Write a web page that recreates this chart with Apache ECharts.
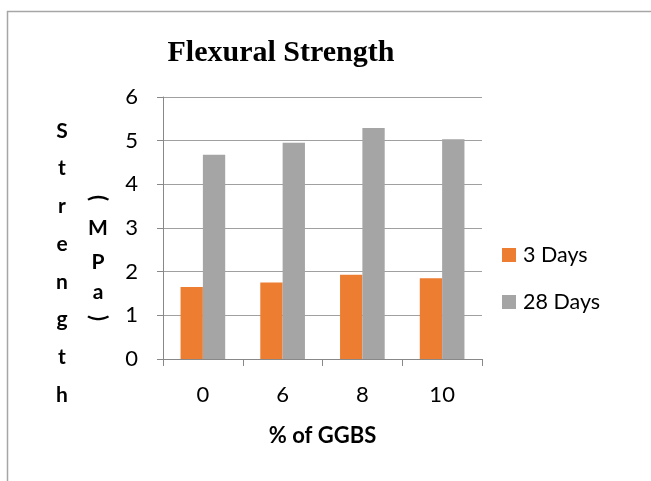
<!DOCTYPE html>
<html><head><meta charset="utf-8">
<script src="https://cdn.jsdelivr.net/npm/echarts@6/dist/echarts.min.js"></script>
<style>html,body{margin:0;padding:0;background:#fff}#c{width:651px;height:481px}</style>
</head><body><div id="c"></div>
<script>
const categories = ['0', '6', '8', '10'];
const days3 = [1.65, 1.75, 1.93, 1.85];
const days28 = [4.68, 4.95, 5.29, 5.03];
const yTicks = [0, 1, 2, 3, 4, 5, 6];
const seriesNames = ['3 Days', '28 Days'];

const chart = echarts.init(document.getElementById('c'), null, {renderer: 'canvas'});
const sans = 'Lato, "Open Sans", sans-serif';
const strengthLetters = 'Strength'.split('');
const graphics = [
  {type: 'rect', left: 5, top: 9, shape: {width: 700, height: 520}, style: {fill: 'none', stroke: '#a6a6a6', lineWidth: 1.5}, silent: true}
];
strengthLetters.forEach((ch, i) => {
  graphics.push({type: 'text', x: 62, y: 131 + i * 37.7, style: {text: ch, font: 'bold 21px ' + sans, fill: '#000', align: 'center', verticalAlign: 'middle'}});
});
const mpa = [['M', 228], ['P', 262], ['a', 292]];
mpa.forEach(([ch, y]) => {
  graphics.push({type: 'text', x: 98, y: y, style: {text: ch, font: 'bold 21px ' + sans, fill: '#000', align: 'center', verticalAlign: 'middle'}});
});
graphics.push({type: 'text', x: 98, y: 198, rotation: -Math.PI / 2, style: {text: '(', font: 'bold 22px ' + sans, fill: '#000', align: 'center', verticalAlign: 'middle'}});
graphics.push({type: 'text', x: 98, y: 318, rotation: -Math.PI / 2, style: {text: ')', font: 'bold 22px ' + sans, fill: '#000', align: 'center', verticalAlign: 'middle'}});

chart.setOption({
  animation: false,
  backgroundColor: '#fff',
  title: {
    text: 'Flexural Strength', left: 276, top: 33, textAlign: 'center',
    textStyle: {fontFamily: '"Liberation Serif", serif', fontWeight: 'bold', fontSize: 30, color: '#000'}
  },
  legend: {
    orient: 'vertical', left: 497, top: 239, itemGap: 25, itemWidth: 14, itemHeight: 14,
    icon: 'rect',
    textStyle: {fontFamily: sans, fontSize: 21.5, color: '#000', padding: [0, 0, 0, 2]},
    data: seriesNames
  },
  grid: {left: 163, right: 169, top: 97, bottom: 122},
  xAxis: {
    type: 'category', data: categories,
    axisLine: {lineStyle: {color: '#888', width: 1}},
    axisTick: {show: true, length: 7, lineStyle: {color: '#888'}},
    axisLabel: {fontFamily: sans, fontSize: 22, color: '#000', margin: 25},
    name: '% of GGBS', nameLocation: 'middle', nameGap: 66,
    nameTextStyle: {fontFamily: sans, fontSize: 22, fontWeight: 'bold', color: '#000'}
  },
  yAxis: {
    type: 'value', min: yTicks[0], max: yTicks[yTicks.length - 1], interval: 1,
    axisLine: {show: true, lineStyle: {color: '#888', width: 1}},
    axisTick: {show: true, length: 6, lineStyle: {color: '#888'}},
    axisLabel: {fontFamily: sans, fontSize: 22, color: '#000', margin: 25},
    splitLine: {lineStyle: {color: '#a0a0a0', width: 1}}
  },
  series: [
    {name: seriesNames[0], type: 'bar', data: days3, itemStyle: {color: '#ED7D31'}, barGap: '0%', barCategoryGap: '44%'},
    {name: seriesNames[1], type: 'bar', data: days28, itemStyle: {color: '#A5A5A5'}, barGap: '0%', barCategoryGap: '44%'}
  ],
  graphic: graphics
});
</script></body></html>
